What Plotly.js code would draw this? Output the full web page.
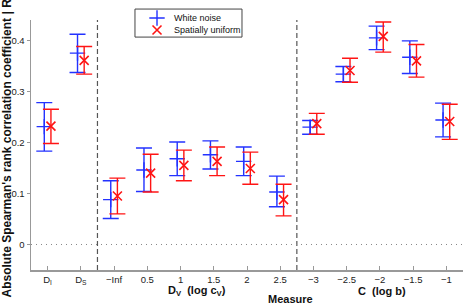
<!DOCTYPE html>
<html><head><meta charset="utf-8">
<script src="https://cdn.plot.ly/plotly-3.0.1.min.js"></script>
<style>body{margin:0;padding:0;background:#fff}#chart{width:463px;height:304px}</style>
</head><body><div id="chart"></div>
<script>
// Category tick labels (positions 1..13)
const tickLabels = ["D<sub>I</sub>", "D<sub>S</sub>", "\u2212Inf", "0.5", "1", "1.5", "2", "2.5",
                    "\u22123", "\u22122.5", "\u22122", "\u22121.5", "\u22121"];
// Series names
const seriesNames = ["White noise", "Spatially uniform"];
// White noise: mean, upper and lower error bound
const whiteMean  = [0.231, 0.375, 0.088, 0.146, 0.168, 0.176, 0.163, 0.103, 0.230, 0.334, 0.405, 0.367, 0.244];
const whiteUpper = [0.278, 0.412, 0.125, 0.189, 0.201, 0.203, 0.191, 0.134, 0.243, 0.349, 0.428, 0.399, 0.277];
const whiteLower = [0.183, 0.337, 0.051, 0.104, 0.135, 0.148, 0.135, 0.074, 0.216, 0.319, 0.382, 0.335, 0.211];
// Spatially uniform: mean, upper and lower error bound
const unifMean  = [0.232, 0.361, 0.095, 0.140, 0.155, 0.163, 0.149, 0.088, 0.237, 0.341, 0.408, 0.360, 0.241];
const unifUpper = [0.265, 0.388, 0.130, 0.177, 0.185, 0.191, 0.181, 0.118, 0.257, 0.365, 0.436, 0.392, 0.275];
const unifLower = [0.198, 0.334, 0.060, 0.103, 0.125, 0.135, 0.118, 0.056, 0.216, 0.318, 0.377, 0.328, 0.206];

const idx = tickLabels.map((_, i) => i + 1);
const blue = 'rgb(35,50,255)', red = 'rgb(255,20,20)';
const blueMarker = {symbol: 'cross-thin-open', size: 11, color: blue, line: {color: blue, width: 1.4}};
const redMarker = {symbol: 'x-thin-open', size: 9, color: red, line: {color: red, width: 1.6}};

// compact legend geometry in the overlay [0,1] frame
const legX0 = 0.2407, legX1 = 0.4884, legY0 = 0.889, legY1 = 0.996;
const legMarkX = 0.2917, legTextX = 0.3264, legRowY = [0.9618, 0.916];

const traces = [
  {
    name: seriesNames[0], type: 'scatter', mode: 'markers', showlegend: false,
    x: idx.map(v => v - 0.1), y: whiteMean, marker: blueMarker,
    error_y: {type: 'data', symmetric: false,
      array: whiteUpper.map((u, i) => u - whiteMean[i]),
      arrayminus: whiteMean.map((m, i) => m - whiteLower[i]),
      color: blue, thickness: 1.4, width: 8}
  },
  {
    name: seriesNames[1], type: 'scatter', mode: 'markers', showlegend: false,
    x: idx.map(v => v + 0.1), y: unifMean, marker: redMarker,
    error_y: {type: 'data', symmetric: false,
      array: unifUpper.map((u, i) => u - unifMean[i]),
      arrayminus: unifMean.map((m, i) => m - unifLower[i]),
      color: red, thickness: 1.4, width: 8}
  },
  // legend sample symbols on an overlay [0,1] frame
  {type: 'scatter', mode: 'markers', xaxis: 'x2', yaxis: 'y2', showlegend: false,
   x: [legMarkX], y: [legRowY[0]], marker: blueMarker, hoverinfo: 'skip'},
  {type: 'scatter', mode: 'markers', xaxis: 'x2', yaxis: 'y2', showlegend: false,
   x: [legMarkX], y: [legRowY[1]], marker: redMarker, hoverinfo: 'skip'}
];

const fontFam = 'Liberation Sans, Arial, sans-serif';
const mainTop = (270 - 20) / 262;
const layout = {
  width: 463, height: 304,
  margin: {l: 31, r: 0, t: 8, b: 34, pad: 0},
  paper_bgcolor: '#fff', plot_bgcolor: 'rgba(0,0,0,0)',
  font: {family: fontFam, size: 9, color: '#222'},
  showlegend: false,
  xaxis: {range: [0.5, 13.5], tickmode: 'array', tickvals: idx, ticktext: tickLabels,
    showgrid: false, zeroline: false, showline: true, linecolor: '#999', linewidth: 1.5,
    ticks: 'inside', ticklen: 4, tickcolor: '#999', tickfont: {size: 9.5, color: '#222'}},
  yaxis: {domain: [0, mainTop], range: [-0.05, 0.44], tickvals: [0, 0.1, 0.2, 0.3, 0.4],
    showgrid: false, zeroline: false, showline: true, linecolor: '#999', linewidth: 1.5,
    ticks: 'outside', ticklen: 3, tickcolor: '#999', tickfont: {size: 9.5, color: '#222'},
    title: {text: "Absolute Spearman's rank correlation coefficient | R |",
      font: {size: 12, color: '#111', family: fontFam, weight: 'bold'}, standoff: 3}},
  xaxis2: {domain: [0, 1], range: [0, 1], visible: false, fixedrange: true, anchor: 'y2'},
  yaxis2: {domain: [0, 1], range: [0, 1], visible: false, fixedrange: true, anchor: 'x2'},
  shapes: [
    {type: 'rect', xref: 'x2', yref: 'y2', x0: legX0, x1: legX1, y0: legY0, y1: legY1,
     fillcolor: '#fff', line: {color: '#444', width: 1}, layer: 'below'},
    {type: 'line', xref: 'x', yref: 'y domain', x0: 2.5, x1: 2.5, y0: 0, y1: 1,
     line: {color: '#555', width: 1.2, dash: '5px,3px'}},
    {type: 'line', xref: 'x', yref: 'y domain', x0: 8.5, x1: 8.5, y0: 0, y1: 1,
     line: {color: '#555', width: 1.2, dash: '5px,3px'}},
    {type: 'line', xref: 'x domain', yref: 'y', x0: 0, x1: 1, y0: 0, y1: 0,
     line: {color: '#888', width: 1, dash: '1px,4px'}}
  ],
  annotations: [
    {text: seriesNames[0], xref: 'x2', yref: 'y2', x: legTextX, y: legRowY[0],
     showarrow: false, xanchor: 'left', yanchor: 'middle', font: {size: 9, color: '#111'}},
    {text: seriesNames[1], xref: 'x2', yref: 'y2', x: legTextX, y: legRowY[1],
     showarrow: false, xanchor: 'left', yanchor: 'middle', font: {size: 9, color: '#111'}},
    {text: '<b>D<sub>V</sub>  (log c<sub>V</sub>)</b>', xref: 'x', yref: 'paper', x: 5.5, y: 0,
     yshift: -21, showarrow: false, xanchor: 'center', yanchor: 'middle', font: {size: 11, color: '#111'}},
    {text: '<b>C  (log b)</b>', xref: 'x', yref: 'paper', x: 11.05, y: 0,
     yshift: -21, showarrow: false, xanchor: 'center', yanchor: 'middle', font: {size: 11, color: '#111'}},
    {text: '<b>Measure</b>', xref: 'x', yref: 'paper', x: 8.3, y: 0,
     yshift: -29, showarrow: false, xanchor: 'center', yanchor: 'middle', font: {size: 11, color: '#111'}}
  ]
};

Plotly.newPlot('chart', traces, layout, {displayModeBar: false, staticPlot: true});
</script>
</body></html>
